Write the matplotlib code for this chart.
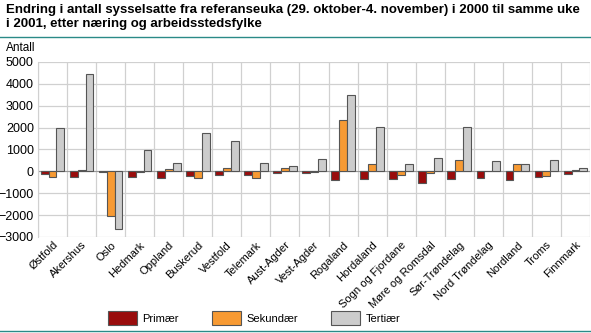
import numpy as np
import matplotlib
matplotlib.use("Agg")
import matplotlib.pyplot as plt
from matplotlib.lines import Line2D

fylker = ["Østfold", "Akershus", "Oslo", "Hedmark", "Oppland", "Buskerud",
          "Vestfold", "Telemark", "Aust-Agder", "Vest-Agder", "Rogaland",
          "Hordaland", "Sogn og Fjordane", "Møre og Romsdal", "Sør-Trøndelag",
          "Nord Trøndelag", "Nordland", "Troms", "Finnmark"]
primaer = [-120, -240, -30, -270, -300, -200, -150, -170, -80, -60, -400,
           -350, -350, -540, -350, -290, -380, -260, -110]
sekundaer = [-280, 70, -2020, -30, 100, -300, 150, -300, 150, -10, 2370,
             350, -170, -80, 520, 10, 350, -210, 40]
tertiaer = [1990, 4460, -2650, 980, 370, 1760, 1380, 370, 240, 580, 3500,
            2050, 350, 610, 2050, 470, 340, 520, 150]
serier = ["Primær", "Sekundær", "Tertiær"]
farger = ["#990c0c", "#f79a33", "#cccccc"]

plt.rcParams["font.family"] = ["Liberation Sans", "DejaVu Sans"]
fig = plt.figure(figsize=(5.91, 3.33), dpi=100)
ax = fig.add_axes([38/591, 1-237/333, 552/591, 175/333])

x = np.arange(len(fylker))
w = 0.27
for i, (vals, c, navn) in enumerate(zip([primaer, sekundaer, tertiaer], farger, serier)):
    ax.bar(x + (i-1)*w, vals, w, color=c, edgecolor="#555555", linewidth=0.8,
           label=navn, zorder=3)

ax.set_xlim(-0.5, len(fylker)-0.5)
ax.set_ylim(-3000, 5000)
ax.set_yticks(range(-3000, 5001, 1000))
ax.set_xticks(x)
ax.set_xticklabels(fylker, rotation=45, ha="right", rotation_mode="anchor", fontsize=8)
ax.tick_params(axis="y", labelsize=9, length=0, pad=3)
ax.tick_params(axis="x", length=0, pad=2)
ax.set_xticks(np.arange(-0.5, len(fylker)), minor=True)
ax.grid(False)
ax.grid(axis="y", which="major", color="#d0d0d0", linewidth=0.9, zorder=0)
ax.grid(axis="x", which="minor", color="#d0d0d0", linewidth=0.9, zorder=0)
ax.tick_params(axis="x", which="minor", length=0)
for s in ax.spines.values():
    s.set_visible(False)
ax.spines["left"].set_visible(True)
ax.spines["left"].set_color("#d0d0d0")
ax.axhline(0, color="#999999", linewidth=0.8, zorder=2)

fig.text(6/591, 1-4/333, "Endring i antall sysselsatte fra referanseuka (29. oktober-4. november) i 2000 til samme uke\ni 2001, etter næring og arbeidsstedsfylke",
         fontsize=9.5, fontweight="bold", va="top", ha="left", linespacing=1.2)
fig.add_artist(Line2D([0, 1], [1-37/333, 1-37/333], color="#2a8a87", linewidth=1))
fig.add_artist(Line2D([0, 1], [1-331/333, 1-331/333], color="#2a8a87", linewidth=1))
fig.text(6/591, 1-48/333, "Antall", fontsize=8.5, va="center", ha="left")

fig.legend(loc="center", bbox_to_anchor=(0.43, 1-318/333), ncol=3, frameon=False,
           fontsize=8, handlelength=2.6, handleheight=1.6, columnspacing=3.0,
           handletextpad=0.5)

fig.savefig("out.png", dpi=100)
